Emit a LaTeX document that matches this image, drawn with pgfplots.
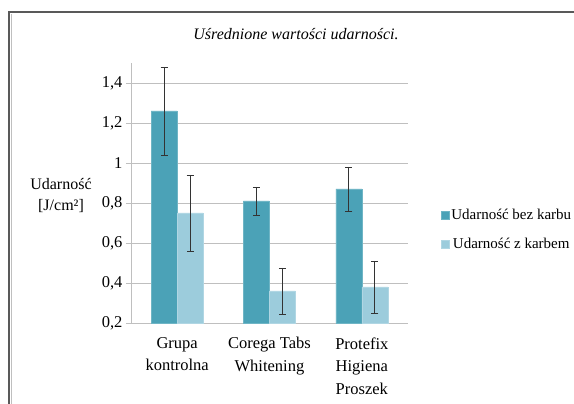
\documentclass[border=0pt]{standalone}
\usepackage{pgfplots}
\pgfplotsset{compat=1.18}
\usepackage{pgfplotstable}
\usepackage{fontspec}
\setmainfont{Liberation Serif}
\definecolor{barA}{HTML}{4BA2B7}
\definecolor{barB}{HTML}{9CCCDC}
\definecolor{gridc}{HTML}{BFBFBF}
\pgfplotstableread{
x y e
0 1.26 0.22
1 0.81 0.07
2 0.87 0.11
}\bez
\pgfplotstableread{
x y e
0 0.75 0.19
1 0.36 0.115
2 0.38 0.13
}\zkarb
\begin{document}
\begin{tikzpicture}[x=1pt,y=1pt]
\useasboundingbox (0,0) rectangle (574,404);
\draw[gray!70!black, line width=1.2pt] (9,0) -- (9,392) -- (574,392);
\draw[gray!50, line width=0.6pt] (11.5,0) -- (11.5,390);
\node[font=\itshape\fontsize{16}{18}\selectfont] at (296,370) {Uśrednione wartości udarności.};
\node[align=center, font=\fontsize{16}{21}\selectfont] at (61,208) {Udarność\\{}[J/cm²]};
\begin{axis}[
  at={(131pt,81pt)}, anchor=south west,
  scale only axis, width=277pt, height=260pt,
  ybar=0pt, bar width=26pt,
  xmin=-0.5, xmax=2.5, ymin=0.2, ymax=1.5,
  ytick={0.2,0.4,...,1.4},
  /pgf/number format/.cd, use comma, assume math mode=true, fixed,
  /pgfplots/.cd,
  yticklabel style={font=\fontsize{16.5}{18}\selectfont},
  xtick={0,1,2},
  xticklabels={{Grupa\\kontrolna},{Corega Tabs\\Whitening},{Protefix\\Higiena\\Proszek}},
  xticklabel style={align=center, font=\fontsize{16.5}{22.5}\selectfont, anchor=north, yshift=-6pt},
  major x tick style={draw=none},
  extra x ticks={0.5,1.5},
  extra x tick labels={},
  extra x tick style={major tick length=6pt, tick style={draw=gridc, line width=0.8pt}, tick align=outside},
  ymajorgrids, grid style={gridc, line width=0.9pt},
  y tick style={draw=gridc, line width=0.8pt}, tick align=outside, major tick length=5pt,
  axis x line*=bottom, axis y line*=left,
  x axis line style={draw=gridc, line width=0.9pt, -},
  y axis line style={draw=gridc, line width=0.9pt, -},
  legend style={at={(1.118,0.36)}, anchor=west, draw=none, inner sep=0pt, font=\fontsize{15}{17}\selectfont, row sep=13pt,
    /tikz/every odd column/.append style={column sep=0pt},
    /tikz/every even column/.append style={inner xsep=1pt}},
  legend image code/.code={\fill[#1] (0pt,-4pt) rectangle (8pt,4pt);},
  clip=false,
]
\addplot[fill=barA, draw=barA!80!white,
  error bars/.cd, y dir=both, y explicit,
  error bar style={black!80, line width=0.9pt},
  error mark options={black!80, line width=0.9pt, mark size=3.5pt, rotate=90}]
  table[x=x, y=y, y error=e] {\bez};
\addplot[fill=barB, draw=barB!80!white,
  error bars/.cd, y dir=both, y explicit,
  error bar style={black!80, line width=0.9pt},
  error mark options={black!80, line width=0.9pt, mark size=3.5pt, rotate=90}]
  table[x=x, y=y, y error=e] {\zkarb};
\legend{Udarność bez karbu, Udarność z karbem}
\end{axis}
\end{tikzpicture}
\end{document}
